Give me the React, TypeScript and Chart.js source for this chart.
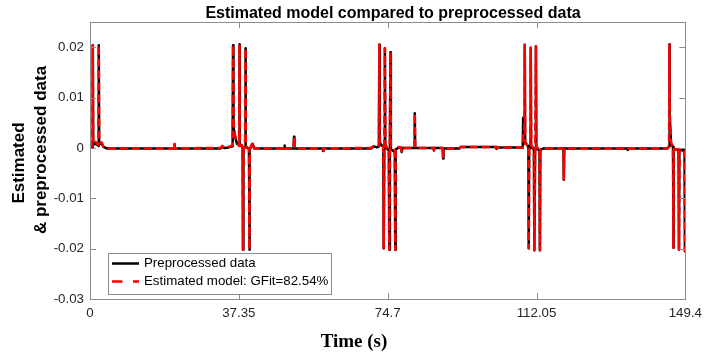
import React, { useEffect, useRef } from "react";
import { Chart, registerables } from "chart.js";

Chart.register(...registerables);

const TIME = [
  0.0, 0.6, 0.7, 0.8, 1.4, 2.1, 2.2, 2.3, 2.9, 3.4, 4.2,
  21.1, 21.2, 21.3,
  32.8, 33.2, 33.7, 34.8, 35.8, 35.9, 36.0, 36.4, 36.9, 37.4, 37.5, 37.6, 38.1, 38.3, 38.4, 38.5, 38.9, 39.0, 39.1, 39.9, 40.0, 40.1, 40.8, 41.2, 42.5,
  48.7, 48.8, 48.9, 51.1, 51.2, 51.3, 58.4, 58.5, 58.6,
  70.5, 71.2, 72.0, 72.5, 72.6, 72.7, 73.3, 73.6, 73.7, 73.85, 74.0, 74.1, 74.7, 75.0, 75.1, 75.25, 75.4, 75.5, 76.1, 76.5, 76.6, 76.7, 77.6, 78.1, 78.2, 78.4,
  81.4, 81.5, 81.6, 86.2, 86.3, 86.4, 88.5, 88.6, 88.7, 92.7, 93.0, 101.9, 102.0, 102.1,
  108.6, 108.7, 109.0, 109.1, 109.2, 109.8, 110.0, 110.1, 110.2, 110.5, 110.6, 110.7, 111.4, 111.5, 111.7, 111.9, 112.0, 112.8, 112.9, 113.0, 113.8, 114.6,
  118.8, 118.9, 119.0, 134.8, 134.9, 135.0,
  144.9, 145.3, 145.4, 145.5, 145.8, 146.3, 146.4, 146.5, 147.1, 147.7, 147.8, 147.9, 148.6, 149.2, 149.3, 149.4,
];

const PREPROCESSED = [
  0.0, 0.0002, 0.0204, 0.0006, 0.0009, 0.0004, 0.0204, 0.0007, 0.0009, 0.0002, -0.0001,
  -0.0001, 0.0007, -0.0001,
  -0.0001, 0.0002, 0.0, 0.0001, 0.0003, 0.0204, 0.0042, 0.0022, 0.0008, 0.0006, 0.0206, 0.0006, 0.0003, 0.0, -0.0202, -0.0002, 0.0002, 0.0198, 0.0002, -0.0002, -0.0202, -0.0004, 0.0008, -0.0001, -0.0001,
  -0.0001, 0.0005, -0.0001, -0.0001, 0.0022, -0.0001, -0.0001, -0.0006, -0.0001,
  -0.0001, 0.0003, 0.0001, 0.0003, 0.0205, 0.001, 0.0004, 0.0004, -0.0199, 0.0, 0.0198, 0.0003, -0.0003, -0.0003, -0.0202, 0.0, 0.019, -0.0002, -0.0006, -0.0005, -0.0202, -0.0003, 0.0001, 0.0, -0.0008, 0.0,
  0.0, 0.0069, 0.0, 0.0, -0.0005, 0.0, 0.0, -0.0021, -0.0001, -0.0001, 0.0002, 0.0002, -0.0002, 0.0001,
  0.0001, 0.006, 0.0055, 0.0205, 0.0012, 0.0004, 0.0004, -0.0199, -0.0001, 0.0, 0.0199, 0.0003, -0.0003, -0.0203, -0.0002, 0.0202, -0.0001, -0.0005, -0.0203, -0.0004, -0.0001, -0.0001,
  -0.0001, -0.0063, -0.0001, -0.0001, -0.0004, -0.0001,
  -0.0001, 0.0003, 0.0206, 0.0068, 0.0008, 0.0002, -0.0198, -0.0002, -0.0003, -0.0004, -0.0202, -0.0003, -0.0005, -0.0004, -0.0205, -0.0205,
];

const ESTIMATED = [
  0.0002, 0.0003, 0.0204, 0.0009, 0.0012, 0.0005, 0.0205, 0.001, 0.0011, 0.0002, -0.0001,
  -0.0001, 0.001, -0.0001,
  0.0, 0.0004, 0.0001, 0.0002, 0.0005, 0.0204, 0.0048, 0.0025, 0.0012, 0.0004, 0.0205, 0.0004, 0.0006, 0.0002, -0.0202, -0.0004, 0.0004, 0.0198, 0.0004, -0.0003, -0.0202, -0.0002, 0.0011, 0.0, -0.0001,
  -0.0001, 0.0003, -0.0001, -0.0001, 0.0022, -0.0001, -0.0001, -0.0005, -0.0001,
  0.0, 0.0004, 0.0003, 0.0005, 0.0205, 0.0014, 0.0006, 0.0006, -0.0199, 0.0002, 0.0198, 0.0007, -0.0002, -0.0002, -0.0202, 0.0002, 0.0191, 0.0002, -0.0004, -0.0004, -0.0202, -0.0002, 0.0002, 0.0, -0.0007, 0.0,
  0.0, 0.0069, 0.0, 0.0, -0.0004, 0.0, 0.0, -0.0018, -0.0001, -0.0001, 0.0002, 0.0002, -0.0001, 0.0001,
  0.0001, 0.003, 0.004, 0.0205, 0.0008, 0.0006, 0.0006, -0.0199, 0.0002, 0.0002, 0.0199, 0.0005, -0.0001, -0.0203, 0.0, 0.0202, 0.0002, -0.0003, -0.0203, -0.0003, 0.0, -0.0001,
  -0.0001, -0.0062, -0.0001, -0.0001, -0.0003, -0.0001,
  -0.0001, 0.0002, 0.0206, 0.006, 0.001, 0.0003, -0.0198, -0.0002, -0.0003, -0.0003, -0.0202, -0.0002, -0.0004, -0.0003, -0.0205, -0.0205,
];

const X_TICKS = [0, 37.35, 74.7, 112.05, 149.4];
const X_TICK_LABELS = ["0", "37.35", "74.7", "112.05", "149.4"];
const Y_TICKS = [-0.03, -0.02, -0.01, 0, 0.01, 0.02];
const Y_TICK_LABELS = ["-0.03", "-0.02", "-0.01", "0", "0.01", "0.02"];
const X_MIN = 0;
const X_MAX = 149.4;
const Y_MIN = -0.03;
const Y_MAX = 0.025;

const TITLE = "Estimated model compared to preprocessed data";
const X_TITLE = "Time (s)";
const Y_TITLE = ["Estimated", "& preprocessed data"];
const SERIES_NAMES = ["Preprocessed data", "Estimated model: GFit=82.54%"];

const SANS = "'Liberation Sans', Arial, sans-serif";
const SERIF = "'Liberation Serif', 'Times New Roman', serif";

const decorPlugin = {
  id: "matlabDecor",
  afterDraw(chart: any) {
    const ctx = chart.ctx as CanvasRenderingContext2D;
    const { left, right, top, bottom } = chart.chartArea;
    const xs = chart.scales.x;
    const ys = chart.scales.y;
    ctx.save();

    // axes box
    ctx.strokeStyle = "#8c8c8c";
    ctx.lineWidth = 1;
    ctx.strokeRect(Math.round(left) + 0.5, Math.round(top) + 0.5, Math.round(right - left), Math.round(bottom - top));

    // inward ticks
    const tl = 6;
    ctx.beginPath();
    X_TICKS.forEach((v) => {
      const px = Math.round(xs.getPixelForValue(v)) + 0.5;
      ctx.moveTo(px, bottom);
      ctx.lineTo(px, bottom - tl);
      ctx.moveTo(px, top);
      ctx.lineTo(px, top + tl);
    });
    Y_TICKS.forEach((v) => {
      const py = Math.round(ys.getPixelForValue(v)) + 0.5;
      ctx.moveTo(left, py);
      ctx.lineTo(left + tl, py);
      ctx.moveTo(right, py);
      ctx.lineTo(right - tl, py);
    });
    ctx.stroke();

    // title
    ctx.fillStyle = "#000";
    ctx.textAlign = "center";
    ctx.textBaseline = "alphabetic";
    ctx.font = `bold 16px ${SANS}`;
    ctx.fillText(TITLE, 393, 18);

    // x title
    ctx.font = `bold 19px ${SERIF}`;
    ctx.fillText(X_TITLE, 354, 347);

    // y title
    ctx.font = `bold 17px ${SANS}`;
    ctx.textBaseline = "middle";
    ctx.save();
    ctx.translate(19, 163);
    ctx.rotate(-Math.PI / 2);
    ctx.fillText(Y_TITLE[0], 0, 0);
    ctx.restore();
    ctx.save();
    ctx.translate(41, 150);
    ctx.rotate(-Math.PI / 2);
    ctx.fillText(Y_TITLE[1], 0, 0);
    ctx.restore();

    // legend
    const lx = 108.5, ly = 253.5, lw = 223, lh = 41;
    ctx.fillStyle = "#fff";
    ctx.fillRect(lx, ly, lw, lh);
    ctx.strokeStyle = "#8c8c8c";
    ctx.lineWidth = 1;
    ctx.strokeRect(lx, ly, lw, lh);

    ctx.lineWidth = 2.5;
    ctx.strokeStyle = "#000";
    ctx.beginPath();
    ctx.moveTo(112, 263.5);
    ctx.lineTo(139, 263.5);
    ctx.stroke();
    ctx.strokeStyle = "#ff0000";
    ctx.beginPath();
    ctx.moveTo(112, 281.5);
    ctx.lineTo(122.5, 281.5);
    ctx.moveTo(133, 281.5);
    ctx.lineTo(139, 281.5);
    ctx.stroke();

    ctx.fillStyle = "#000";
    ctx.textAlign = "left";
    ctx.textBaseline = "middle";
    ctx.font = `13.3px ${SANS}`;
    ctx.fillText(SERIES_NAMES[0], 144, 263.5);
    ctx.fillText(SERIES_NAMES[1], 144, 281.5);

    ctx.restore();
  },
};

export default function App() {
  const canvasRef = useRef<HTMLCanvasElement | null>(null);

  useEffect(() => {
    const canvas = canvasRef.current;
    if (!canvas) return;
    const pre = TIME.map((t, i) => ({ x: t, y: PREPROCESSED[i] }));
    const est = TIME.map((t, i) => ({ x: t, y: ESTIMATED[i] }));
    const chart = new Chart(canvas, {
      type: "line",
      data: {
        datasets: [
          {
            label: SERIES_NAMES[0],
            data: pre,
            borderColor: "#000000",
            borderWidth: 2.5,
            borderJoinStyle: "round",
            pointRadius: 0,
            tension: 0,
            order: 2,
          },
          {
            label: SERIES_NAMES[1],
            data: est,
            borderColor: "#ff0000",
            borderWidth: 2.5,
            borderJoinStyle: "round",
            borderDash: [8, 4],
            pointRadius: 0,
            tension: 0,
            order: 1,
          },
        ],
      },
      options: {
        responsive: false,
        animation: false,
        layout: { padding: { left: 0, right: 18, top: 22, bottom: 0 } },
        plugins: {
          legend: { display: false },
          title: { display: false },
          tooltip: { enabled: false },
        },
        scales: {
          x: {
            type: "linear",
            min: X_MIN,
            max: X_MAX,
            grid: { display: false, drawTicks: false },
            border: { display: false },
            afterBuildTicks: (scale: any) => {
              scale.ticks = X_TICKS.map((v) => ({ value: v }));
            },
            afterFit: (scale: any) => {
              scale.height = 59;
            },
            ticks: {
              autoSkip: false,
              maxRotation: 0,
              padding: 6,
              color: "#262626",
              font: { family: SANS, size: 13.3 },
              callback: (_v: any, i: number) => X_TICK_LABELS[i],
            },
          },
          y: {
            type: "linear",
            min: Y_MIN,
            max: Y_MAX,
            grid: { display: false, drawTicks: false },
            border: { display: false },
            afterBuildTicks: (scale: any) => {
              scale.ticks = Y_TICKS.map((v) => ({ value: v }));
            },
            afterFit: (scale: any) => {
              scale.width = 90;
            },
            ticks: {
              autoSkip: false,
              padding: 6,
              color: "#262626",
              font: { family: SANS, size: 13.3 },
              callback: (_v: any, i: number) => Y_TICK_LABELS[i],
            },
          },
        },
      },
      plugins: [decorPlugin],
    });
    return () => chart.destroy();
  }, []);

  return (
    <div style={{ position: "fixed", left: 0, top: 0, width: 708, height: 358, background: "#fff" }}>
      <canvas ref={canvasRef} width={708} height={358} style={{ display: "block" }} />
    </div>
  );
}
